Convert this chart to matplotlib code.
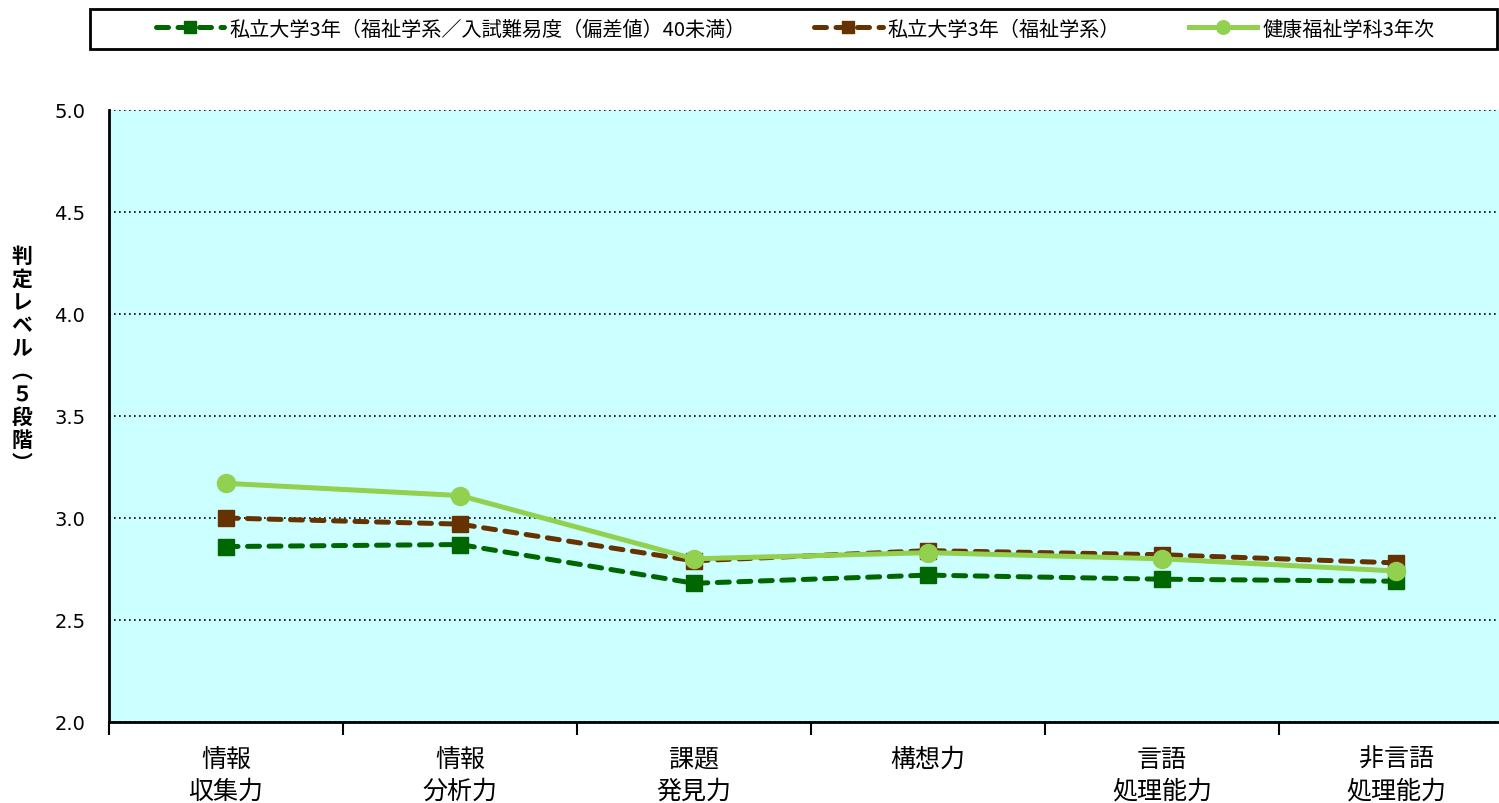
import matplotlib
matplotlib.use("Agg")
import matplotlib.pyplot as plt
from matplotlib.patches import Rectangle

plt.rcParams['font.family'] = ['Noto Sans CJK JP', 'DejaVu Sans']

categories = ["情報\n収集力", "情報\n分析力", "課題\n発見力", "構想力", "言語\n処理能力", "非言語\n処理能力"]
series_names = [
    "私立大学3年（福祉学系／入試難易度（偏差値）40未満）",
    "私立大学3年（福祉学系）",
    "健康福祉学科3年次",
]
low_tier = [2.86, 2.87, 2.68, 2.72, 2.70, 2.69]
welfare = [3.00, 2.97, 2.79, 2.84, 2.82, 2.78]
dept = [3.17, 3.11, 2.80, 2.83, 2.80, 2.74]
yticks = [2.0, 2.5, 3.0, 3.5, 4.0, 4.5, 5.0]

W, H = 1499, 804
fig = plt.figure(figsize=(W / 100, H / 100), dpi=100)
ax = fig.add_axes([109 / W, (H - 723) / H, (1513 - 109) / W, (723 - 111) / H])
ax.set_facecolor("#CCFFFF")

x = range(len(categories))
ax.plot(x, low_tier, color="#006600", lw=3.6, ls=(0, (2.4, 1.9)),
        dash_capstyle="round", marker="s", ms=11, mec="#006600",
        label=series_names[0], zorder=3)
ax.plot(x, welfare, color="#663300", lw=3.6, ls=(0, (2.4, 1.9)),
        dash_capstyle="round", marker="s", ms=11, mec="#663300",
        label=series_names[1], zorder=3)
ax.plot(x, dept, color="#92D050", lw=3.6, marker="o", ms=13,
        mec="#92D050", label=series_names[2], zorder=4)

ax.set_xlim(-0.5, len(categories) - 0.5)
ax.set_ylim(2.0, 5.0)
ax.set_yticks(yticks)
ax.set_yticklabels([f"{v:.1f}" for v in yticks], family="DejaVu Sans", fontsize=14)
ax.tick_params(axis="y", length=0, pad=17)
ax.yaxis.grid(True, color="black", ls=(0, (1, 2)), lw=1.2)
ax.set_axisbelow(False)

# category labels sit between boundary ticks
ax.set_xticks([i - 0.5 for i in range(len(categories) + 1)])
ax.set_xticklabels([])
ax.set_xticks(list(x), minor=True)
ax.set_xticklabels(categories, minor=True, fontsize=18, linespacing=1.3)
ax.tick_params(axis="x", which="major", length=9, width=1.5, direction="out")
ax.tick_params(axis="x", which="minor", length=0, pad=17)

for s in ["top", "right"]:
    ax.spines[s].set_visible(False)
for s in ["left", "bottom"]:
    ax.spines[s].set_linewidth(2)

fig.text(22 / W, 1 - 360 / H, "判\n定\nレ\nベ\nル\n︵\n５\n段\n階\n︶",
         ha="center", va="center", fontsize=15, fontweight="bold",
         linespacing=1.12)

# legend frame and entries
fig.patches.append(Rectangle((90 / W, 1 - 50 / H), (1497 - 90) / W, 40 / H,
                             transform=fig.transFigure, fill=False,
                             edgecolor="black", lw=2))
fig.legend(loc="center", bbox_to_anchor=(795 / W, 1 - 30 / H),
           ncol=3, frameon=False, fontsize=14.5, markerscale=0.75,
           handlelength=3.4, handletextpad=0.25, columnspacing=3.4,
           borderaxespad=0)

fig.savefig("out.png", dpi=100)
